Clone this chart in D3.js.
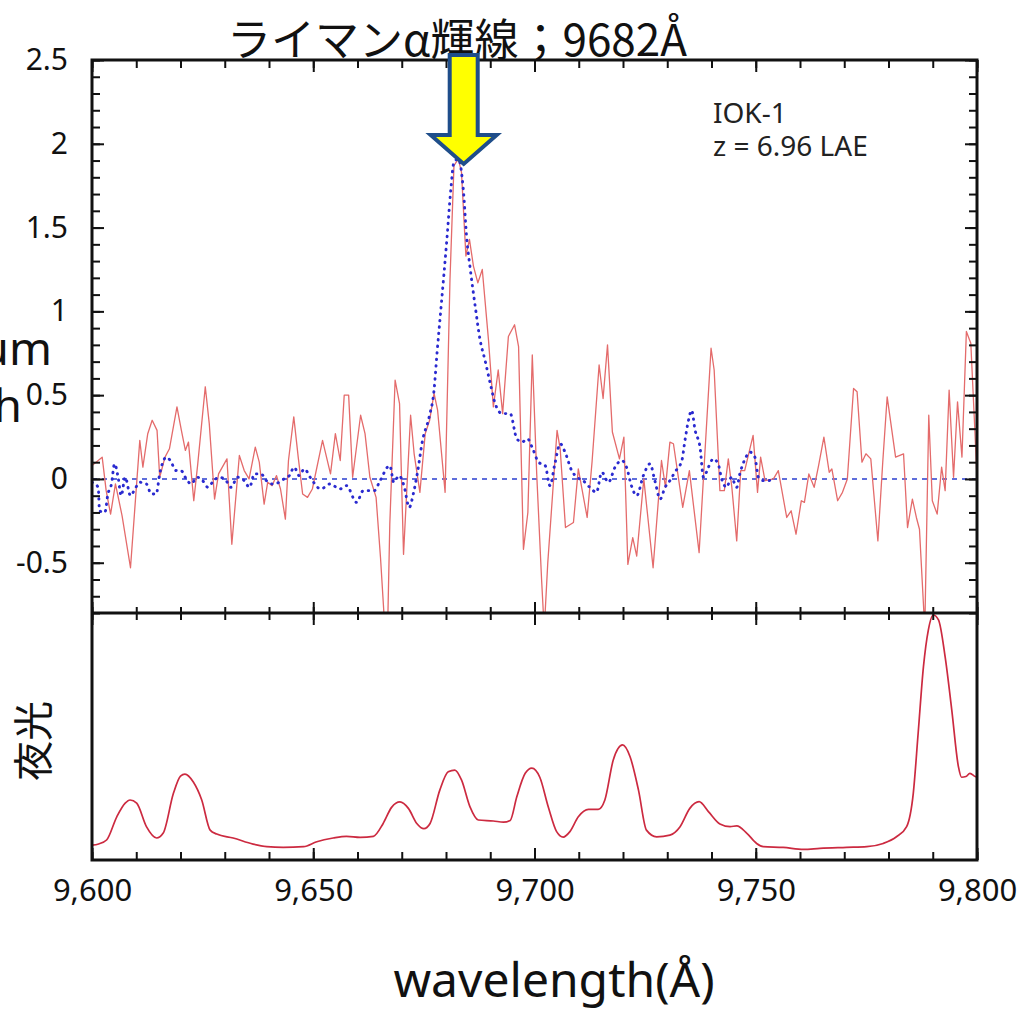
<!DOCTYPE html>
<html>
<head>
<meta charset="utf-8">
<script src="https://cdn.jsdelivr.net/npm/d3@7"></script>
<style>
  html, body { margin: 0; padding: 0; background: #ffffff; }
  svg { display: block; }
  .tick text { font-family: "Noto Sans", "Open Sans", sans-serif; fill: #111; }
</style>
</head>
<body>
<svg id="chart" width="1025" height="1014"></svg>
<script>
// observed spectrum (red, thin)
const obsLambda = [9600.0, 9602.3, 9603.2, 9604.2, 9605.3, 9606.8, 9608.7, 9610.8, 9611.5, 9612.6, 9613.6, 9614.7, 9615.3, 9616.5, 9617.5, 9619.2, 9620.2, 9621.1, 9621.8, 9623.0, 9623.9, 9625.6, 9626.5, 9627.7, 9628.6, 9630.5, 9631.6, 9633.3, 9634.4, 9635.5, 9636.9, 9637.8, 9638.9, 9639.7, 9640.7, 9641.7, 9642.6, 9643.7, 9644.4, 9645.6, 9646.6, 9647.6, 9648.7, 9649.8, 9652.1, 9653.9, 9655.0, 9656.1, 9657.0, 9658.0, 9658.9, 9660.7, 9661.7, 9662.8, 9664.2, 9665.2, 9666.2, 9666.8, 9667.3, 9668.5, 9669.5, 9670.4, 9672.0, 9672.8, 9674.1, 9675.3, 9676.3, 9677.3, 9678.1, 9679.8, 9680.9, 9681.8, 9682.8, 9683.5, 9684.5, 9685.3, 9686.2, 9687.2, 9688.2, 9689.6, 9690.7, 9691.8, 9692.8, 9694.1, 9695.5, 9696.4, 9697.5, 9698.5, 9699.5, 9700.5, 9701.6, 9702.2, 9703.0, 9705.1, 9705.8, 9707.0, 9708.8, 9709.9, 9711.9, 9713.0, 9714.6, 9715.5, 9716.5, 9717.6, 9719.2, 9720.2, 9721.1, 9722.2, 9723.1, 9724.7, 9725.5, 9726.8, 9728.7, 9729.6, 9730.6, 9731.4, 9733.5, 9735.0, 9737.2, 9738.5, 9739.9, 9740.6, 9741.9, 9742.9, 9743.8, 9744.6, 9745.7, 9746.6, 9747.5, 9749.4, 9750.4, 9751.1, 9752.1, 9754.0, 9755.1, 9757.0, 9758.0, 9759.1, 9760.3, 9761.0, 9762.0, 9763.2, 9764.2, 9765.4, 9766.6, 9767.2, 9768.5, 9769.6, 9770.7, 9772.1, 9772.9, 9774.0, 9774.9, 9776.0, 9777.6, 9778.7, 9779.7, 9781.6, 9783.4, 9784.3, 9785.4, 9786.3, 9787.0, 9788.2, 9789.1, 9789.9, 9791.0, 9792.0, 9792.8, 9793.7, 9794.7, 9795.6, 9796.6, 9797.6, 9798.6, 9799.5, 9800.0];
const obsFlux = [0.08, 0.13, -0.07, -0.21, -0.03, -0.22, -0.53, 0.23, 0.07, 0.27, 0.35, 0.29, 0.01, 0.13, 0.18, 0.43, 0.29, 0.17, 0.22, -0.13, 0.09, 0.55, 0.33, -0.12, 0.03, 0.12, -0.39, 0.14, 0.05, 0.0, 0.19, 0.10, -0.15, -0.02, -0.04, 0.02, -0.06, -0.24, 0.11, 0.37, 0.13, -0.09, -0.11, -0.06, 0.23, 0.03, 0.27, 0.11, 0.50, 0.50, 0.01, 0.38, 0.27, 0.01, -0.11, -0.47, -0.9, -0.9, -0.27, 0.59, 0.45, -0.45, 0.38, 0.15, -0.08, 0.27, 0.35, 0.51, 0.41, -0.08, 1.19, 1.87, 1.91, 1.83, 1.33, 1.43, 1.27, 1.17, 1.25, 0.83, 0.43, 0.65, 0.39, 0.85, 0.92, 0.79, -0.42, -0.2, 0.74, 0.03, -0.6, -0.9, -0.5, 0.29, 0.18, -0.29, -0.26, 0.06, -0.23, 0.10, 0.68, 0.48, 0.80, 0.28, 0.12, 0.25, -0.51, -0.35, -0.46, 0.0, -0.2, -0.53, 0.11, -0.05, 0.22, 0.21, -0.17, 0.05, -0.44, 0.15, 0.78, 0.65, -0.07, -0.07, 0.12, -0.05, -0.37, 0.05, 0.05, 0.26, -0.08, 0.13, -0.01, 0.0, 0.05, -0.23, -0.19, -0.33, -0.13, -0.14, 0.03, -0.05, 0.08, 0.25, 0.04, 0.06, -0.13, -0.08, 0.0, 0.54, 0.52, 0.10, 0.15, 0.12, -0.37, 0.1, 0.49, 0.13, 0.15, -0.29, -0.12, -0.23, -0.3, -0.9, 0.38, -0.13, -0.21, 0.07, -0.07, 0.53, 0.01, 0.46, 0.13, 0.88, 0.81, 0.3, 0.0];

// model spectrum (blue, dotted)
const modelLambda = [9600.0, 9601.4, 9601.7, 9602.9, 9603.6, 9604.4, 9605.1, 9605.9, 9606.6, 9607.5, 9608.7, 9609.7, 9610.8, 9612.3, 9613.4, 9614.5, 9615.3, 9616.8, 9617.7, 9619.0, 9620.1, 9621.3, 9622.4, 9623.8, 9625.0, 9626.2, 9627.5, 9628.8, 9630.3, 9631.4, 9632.9, 9634.4, 9635.6, 9636.7, 9638.2, 9639.4, 9640.8, 9642.3, 9643.4, 9644.6, 9645.7, 9646.8, 9648.0, 9649.3, 9651.7, 9653.8, 9656.0, 9657.5, 9659.8, 9661.3, 9663.8, 9665.1, 9667.3, 9668.2, 9669.4, 9670.5, 9671.7, 9672.6, 9673.5, 9674.7, 9676.2, 9677.3, 9678.0, 9679.0, 9680.2, 9681.1, 9681.8, 9682.8, 9683.9, 9684.7, 9685.4, 9686.6, 9687.7, 9688.8, 9690.0, 9691.1, 9692.7, 9694.5, 9696.0, 9697.2, 9698.4, 9699.6, 9700.9, 9702.4, 9703.5, 9704.6, 9705.8, 9706.9, 9708.4, 9709.6, 9711.0, 9712.5, 9714.0, 9715.2, 9716.7, 9718.2, 9719.7, 9720.8, 9721.9, 9723.1, 9724.6, 9726.1, 9727.2, 9728.4, 9729.5, 9730.6, 9731.7, 9733.3, 9734.0, 9734.8, 9735.5, 9736.3, 9737.4, 9738.2, 9739.3, 9740.4, 9741.5, 9742.3, 9743.4, 9744.5, 9745.7, 9746.4, 9747.6, 9748.7, 9749.8, 9750.6, 9751.7, 9752.8, 9754.0];
const modelFlux = [-0.02, -0.05, -0.19, -0.20, -0.09, -0.03, 0.09, 0.01, -0.10, 0.01, -0.10, -0.06, -0.02, -0.03, -0.09, -0.09, 0.03, 0.13, 0.11, 0.05, 0.05, 0.0, -0.03, 0.01, -0.01, -0.05, -0.01, 0.01, -0.01, -0.05, 0.01, -0.01, -0.05, 0.03, 0.03, -0.01, -0.03, -0.02, 0.0, 0.02, 0.07, 0.02, 0.06, 0.01, -0.06, -0.03, -0.06, -0.04, -0.14, -0.07, -0.07, -0.01, 0.08, -0.02, 0.02, -0.04, -0.17, -0.09, 0.03, 0.23, 0.37, 0.53, 0.76, 1.06, 1.43, 1.73, 1.89, 1.91, 1.73, 1.43, 1.27, 1.03, 0.83, 0.71, 0.57, 0.45, 0.39, 0.39, 0.24, 0.22, 0.24, 0.18, 0.10, 0.08, -0.04, 0.09, 0.21, 0.16, 0.05, 0.01, -0.01, -0.05, -0.08, 0.04, -0.02, 0.07, 0.11, 0.07, -0.04, -0.10, 0.02, 0.09, -0.01, -0.12, -0.05, -0.01, 0.04, 0.11, 0.23, 0.35, 0.41, 0.29, 0.19, 0.01, 0.07, 0.12, 0.09, 0.0, -0.05, 0.01, -0.05, 0.03, 0.12, 0.16, 0.13, 0.01, -0.01, -0.01, 0.0];

// night-sky spectrum (lower panel, arbitrary units)
const skyLambda = [9600.0, 9601.5, 9603.3, 9605.6, 9607.5, 9608.6, 9610.1, 9612.3, 9614.6, 9616.1, 9618.4, 9620.0, 9621.0, 9622.9, 9624.8, 9626.7, 9628.2, 9631.9, 9636.4, 9639.5, 9643.2, 9647.8, 9650.8, 9654.5, 9657.5, 9660.6, 9663.6, 9665.8, 9667.7, 9669.6, 9671.5, 9673.4, 9675.0, 9676.4, 9678.6, 9680.5, 9682.0, 9683.5, 9685.4, 9687.3, 9690.7, 9693.0, 9694.5, 9696.0, 9697.9, 9699.4, 9701.2, 9703.1, 9705.0, 9706.5, 9708.0, 9709.9, 9712.2, 9714.4, 9715.9, 9717.8, 9719.9, 9721.6, 9723.5, 9725.3, 9727.6, 9730.6, 9732.9, 9735.1, 9737.2, 9739.3, 9741.9, 9744.2, 9745.7, 9748.0, 9750.2, 9751.7, 9756.2, 9760.8, 9764.5, 9770.5, 9775.1, 9778.8, 9781.8, 9784.1, 9785.6, 9786.7, 9787.9, 9789.0, 9790.1, 9791.3, 9792.8, 9794.3, 9795.8, 9796.5, 9797.5, 9798.4, 9799.6, 9800.0];
const skyLevel = [6.0, 6.5, 8.1, 17.5, 23, 24.3, 23, 13.5, 8.9, 10.9, 27, 34, 34.8, 31.6, 24.3, 12.1, 10.5, 8.9, 6.4, 5.4, 5.1, 5.4, 7.4, 8.9, 9.6, 9.2, 9.6, 14.8, 21.3, 23.5, 20.9, 14.8, 12.7, 14.8, 28.3, 35.7, 36.4, 32.4, 21.6, 16.2, 15.8, 15.3, 16, 25.6, 35.1, 37.2, 33.5, 21.6, 11.5, 9.3, 11.5, 17.5, 20.5, 20.5, 24.3, 40.5, 46.6, 41.8, 28.3, 12.1, 9.4, 10.1, 13.5, 20.9, 23.6, 19.6, 14.6, 13.5, 13.8, 10.8, 6.7, 5.4, 5.1, 4.3, 4.7, 5.1, 5.4, 6.7, 9.4, 13.5, 27, 51.3, 78.3, 93.1, 99.2, 97.2, 82.2, 60.7, 37.8, 33.5, 33.8, 35.1, 33.8, 33.5];

const xMajorTicks = [9600, 9650, 9700, 9750, 9800];
const xMinorTicks = d3.range(9600, 9801, 10);
const yMajorTicks = [-0.5, 0, 0.5, 1, 1.5, 2, 2.5];
const yMinorTicks = d3.range(-8, 26).map((i) => i / 10);

const titleText = "ライマンα輝線；9682Å";
const lyaArrowAt = 9684;
const objectLines = ["IOK-1", "z = 6.96 LAE"];
const yTitleLines = ["Spectrum", "strength"];
const skyLabel = "夜光";
const xTitle = "wavelength(Å)";

const svg = d3.select("#chart");
const plotLeft = 92, plotRight = 977, plotTop = 60, plotMid = 613, plotBottom = 860;

svg.append("rect").attr("width", 1025).attr("height", 1014).attr("fill", "#ffffff");

const x = d3.scaleLinear().domain([9600, 9800]).range([plotLeft, plotRight]);
const yFlux = d3.scaleLinear().domain([-0.8, 2.5]).range([plotMid, plotTop]);
const ySky = d3.scaleLinear().domain([0, 100]).range([plotBottom, plotMid]);

svg.append("clipPath").attr("id", "clip-top")
  .append("rect").attr("x", plotLeft).attr("y", plotTop)
  .attr("width", plotRight - plotLeft).attr("height", plotMid - plotTop);
svg.append("clipPath").attr("id", "clip-bottom")
  .append("rect").attr("x", plotLeft).attr("y", plotMid)
  .attr("width", plotRight - plotLeft).attr("height", plotBottom - plotMid);

// zero level
svg.append("line")
  .attr("x1", x(9600)).attr("x2", x(9800))
  .attr("y1", yFlux(0)).attr("y2", yFlux(0))
  .attr("stroke", "#2b3fd0")
  .attr("stroke-width", 1.6)
  .attr("stroke-dasharray", "5,5");

const obsLine = d3.line()
  .x((d, i) => x(obsLambda[i]))
  .y((d) => yFlux(d));

svg.append("path")
  .datum(obsFlux)
  .attr("clip-path", "url(#clip-top)")
  .attr("fill", "none")
  .attr("stroke", "#e46b6b")
  .attr("stroke-width", 1.3)
  .attr("stroke-linejoin", "round")
  .attr("d", obsLine);

const modelLine = d3.line()
  .x((d, i) => x(modelLambda[i]))
  .y((d) => yFlux(d))
  .curve(d3.curveMonotoneX);

svg.append("path")
  .datum(modelFlux)
  .attr("clip-path", "url(#clip-top)")
  .attr("fill", "none")
  .attr("stroke", "#2a2ad0")
  .attr("stroke-width", 2.9)
  .attr("stroke-linecap", "round")
  .attr("stroke-dasharray", "0.5,6")
  .attr("d", modelLine);

const skyLine = d3.line()
  .x((d, i) => x(skyLambda[i]))
  .y((d) => ySky(d))
  .curve(d3.curveMonotoneX);

svg.append("path")
  .datum(skyLevel)
  .attr("clip-path", "url(#clip-bottom)")
  .attr("fill", "none")
  .attr("stroke", "#cc2a40")
  .attr("stroke-width", 1.7)
  .attr("d", skyLine);

// axes, all ticks pointing into the panels
function styleAxis(g) {
  g.select(".domain").remove();
  g.selectAll(".tick line").attr("stroke", "#111").attr("stroke-width", 2);
}

svg.append("g").attr("transform", `translate(0,${plotBottom})`)
  .call(d3.axisBottom(x).tickValues(xMinorTicks).tickSize(-8).tickFormat(""))
  .call(styleAxis);
svg.append("g").attr("transform", `translate(0,${plotBottom})`)
  .call(d3.axisBottom(x).tickValues(xMajorTicks).tickSizeInner(-12).tickSizeOuter(0)
    .tickPadding(19).tickFormat(d3.format(",")))
  .call(styleAxis)
  .call((g) => g.selectAll(".tick text").style("font-size", "31px"));

svg.append("g").attr("transform", `translate(0,${plotTop})`)
  .call(d3.axisTop(x).tickValues(xMinorTicks).tickSize(-8).tickFormat(""))
  .call(styleAxis);
svg.append("g").attr("transform", `translate(0,${plotTop})`)
  .call(d3.axisTop(x).tickValues(xMajorTicks).tickSize(-12).tickFormat(""))
  .call(styleAxis);

svg.append("g").attr("transform", `translate(0,${plotMid})`)
  .call(d3.axisBottom(x).tickValues(xMinorTicks).tickSize(7).tickFormat(""))
  .call(styleAxis);
svg.append("g").attr("transform", `translate(0,${plotMid})`)
  .call(d3.axisBottom(x).tickValues(xMajorTicks).tickSize(12).tickFormat(""))
  .call(styleAxis);
svg.append("g").attr("transform", `translate(0,${plotMid})`)
  .call(d3.axisTop(x).tickValues(xMinorTicks).tickSize(6).tickFormat(""))
  .call(styleAxis);
svg.append("g").attr("transform", `translate(0,${plotMid})`)
  .call(d3.axisTop(x).tickValues(xMajorTicks).tickSize(11).tickFormat(""))
  .call(styleAxis);

svg.append("g").attr("transform", `translate(${plotLeft},0)`)
  .call(d3.axisLeft(yFlux).tickValues(yMinorTicks).tickSize(-8).tickFormat(""))
  .call(styleAxis);
svg.append("g").attr("transform", `translate(${plotLeft},0)`)
  .call(d3.axisLeft(yFlux).tickValues(yMajorTicks).tickSizeInner(-12).tickSizeOuter(0)
    .tickPadding(24).tickFormat((d) => String(d)))
  .call(styleAxis)
  .call((g) => g.selectAll(".tick text").style("font-size", "30px"));

svg.append("g").attr("transform", `translate(${plotRight},0)`)
  .call(d3.axisRight(yFlux).tickValues(yMinorTicks).tickSize(-8).tickFormat(""))
  .call(styleAxis);
svg.append("g").attr("transform", `translate(${plotRight},0)`)
  .call(d3.axisRight(yFlux).tickValues(yMajorTicks).tickSize(-12).tickFormat(""))
  .call(styleAxis);

// frames
const frame = svg.append("g").attr("fill", "none").attr("stroke", "#111").attr("stroke-width", 3);
frame.append("rect").attr("x", plotLeft).attr("y", plotTop)
  .attr("width", plotRight - plotLeft).attr("height", plotBottom - plotTop);
frame.append("line").attr("x1", plotLeft).attr("x2", plotRight).attr("y1", plotMid).attr("y2", plotMid);

// texts
svg.append("text")
  .attr("font-family", "'Noto Sans', sans-serif")
  .attr("font-size", 28)
  .attr("fill", "#222")
  .selectAll("tspan")
  .data(objectLines)
  .join("tspan")
  .attr("x", 713)
  .attr("y", (d, i) => 123 + i * 33)
  .text((d) => d);

svg.append("g")
  .attr("font-family", "'Noto Sans', sans-serif")
  .attr("font-size", 46)
  .attr("fill", "#111")
  .attr("text-anchor", "end")
  .selectAll("text")
  .data(yTitleLines)
  .join("text")
  .attr("x", (d, i) => (i === 0 ? 52 : 22))
  .attr("y", (d, i) => 365 + i * 57)
  .text((d) => d);

svg.append("text")
  .attr("transform", "translate(48,741) rotate(-90)")
  .attr("text-anchor", "middle")
  .attr("font-family", "'Noto Sans CJK JP', sans-serif")
  .attr("font-size", 40)
  .attr("fill", "#111")
  .text(skyLabel);

svg.append("text")
  .attr("x", 554)
  .attr("y", 997)
  .attr("text-anchor", "middle")
  .attr("font-family", "'Noto Sans', sans-serif")
  .attr("font-size", 48)
  .attr("fill", "#111")
  .text(xTitle);

svg.append("text")
  .attr("x", 457)
  .attr("y", 56)
  .attr("text-anchor", "middle")
  .attr("font-family", "'Noto Sans CJK JP', sans-serif")
  .attr("font-size", 44)
  .attr("fill", "#111")
  .text(titleText);

// arrow pointing at the Lyman alpha peak
const ax = x(lyaArrowAt);
const tipY = yFlux(1.88);
const headY = tipY - 29;
const tailY = plotTop - 5;
const arrowPath = d3.path();
arrowPath.moveTo(ax - 14, tailY);
arrowPath.lineTo(ax + 14, tailY);
arrowPath.lineTo(ax + 14, headY);
arrowPath.lineTo(ax + 33, headY);
arrowPath.lineTo(ax, tipY);
arrowPath.lineTo(ax - 33, headY);
arrowPath.lineTo(ax - 14, headY);
arrowPath.closePath();

svg.append("path")
  .attr("d", arrowPath.toString())
  .attr("fill", "#ffff00")
  .attr("stroke", "#1f4e8a")
  .attr("stroke-width", 4)
  .attr("stroke-linejoin", "miter");
</script>
</body>
</html>
